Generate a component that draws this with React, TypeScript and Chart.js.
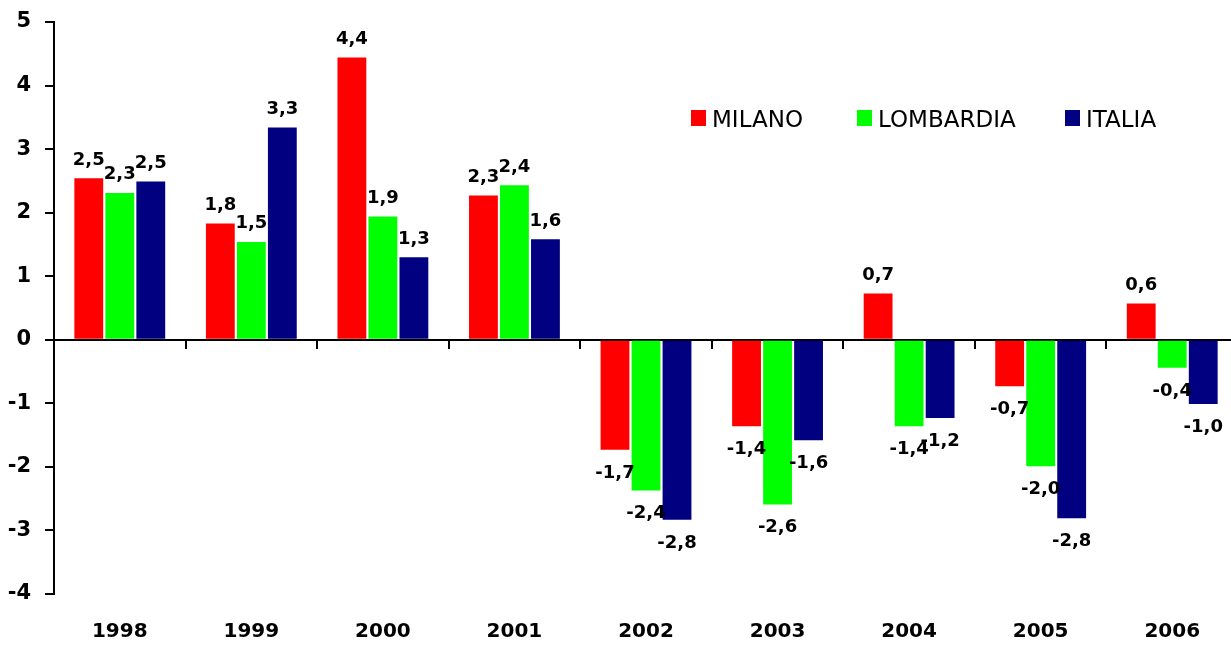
import React, { useEffect, useRef } from "react";
import { Chart, registerables } from "chart.js";

Chart.register(...registerables);

// ---- data ----
const years = ["1998", "1999", "2000", "2001", "2002", "2003", "2004", "2005", "2006"];
const milano = [2.54, 1.83, 4.44, 2.27, -1.73, -1.36, 0.73, -0.73, 0.57];
const lombardia = [2.31, 1.54, 1.94, 2.43, -2.37, -2.59, -1.36, -1.99, -0.44];
const italia = [2.49, 3.34, 1.3, 1.58, -2.83, -1.58, -1.23, -2.81, -1.01];
const seriesNames = ["MILANO", "LOMBARDIA", "ITALIA"];
const seriesColors = ["#FF0000", "#00FF00", "#000080"];
const yMin = -4;
const yMax = 5;

const FONT = "'DejaVu Sans', 'Noto Sans', sans-serif";

const fmt = (v: number) => v.toFixed(1).replace(".", ",");

const barLabels = {
  id: "barLabels",
  afterDatasetsDraw(chart: any) {
    const ctx = chart.ctx;
    ctx.save();
    ctx.font = `bold 18px ${FONT}`;
    ctx.fillStyle = "#000";
    ctx.textAlign = "center";
    ctx.textBaseline = "alphabetic";
    chart.data.datasets.forEach((ds: any, i: number) => {
      const meta = chart.getDatasetMeta(i);
      meta.data.forEach((el: any, j: number) => {
        const v = ds.data[j] as number;
        const y = v >= 0 ? el.y - 13.5 : el.y + 15 + 13;
        ctx.fillText(fmt(v), el.x, y);
      });
    });
    ctx.restore();
  },
};

const legendLeft = [691, 857, 1065];

export default function App() {
  const ref = useRef<HTMLCanvasElement | null>(null);

  useEffect(() => {
    document.body.style.margin = "0";
    const canvas = ref.current!;
    const seriesData = [milano, lombardia, italia];
    const chart = new Chart(canvas, {
      type: "bar",
      data: {
        labels: years,
        datasets: seriesNames.map((name, i) => ({
          label: name,
          data: seriesData[i],
          backgroundColor: seriesColors[i],
          borderWidth: 0,
          categoryPercentage: 0.707,
          barPercentage: 0.93,
          xAxisID: "x",
          yAxisID: "y",
        })),
      },
      options: {
        responsive: false,
        animation: false,
        layout: { padding: { top: 22, left: 0, right: 0, bottom: 0 } },
        plugins: {
          legend: { display: false },
          tooltip: { enabled: false },
        },
        scales: {
          x: {
            type: "category",
            axis: "x",
            position: { y: 0 } as any,
            offset: true,
            grid: {
              display: true,
              drawOnChartArea: false,
              drawTicks: true,
              tickLength: 8,
              color: "#000",
              lineWidth: 2,
              offset: true,
            },
            border: { display: true, color: "#000", width: 2 },
            ticks: { display: false },
          },
          x2: {
            type: "category",
            axis: "x",
            position: "bottom",
            offset: true,
            grid: { display: false, drawTicks: false },
            border: { display: false },
            ticks: {
              color: "#000",
              padding: 26,
              font: { family: FONT, size: 20, weight: "bold" },
            },
            afterFit: (s: any) => {
              s.height = 51;
            },
          },
          y: {
            min: yMin,
            max: yMax,
            ticks: {
              stepSize: 1,
              padding: 14,
              color: "#000",
              font: { family: FONT, size: 21, weight: "bold" },
            },
            grid: {
              drawOnChartArea: false,
              drawTicks: true,
              tickLength: 9,
              color: "#000",
              lineWidth: 2,
            },
            border: { display: true, color: "#000", width: 2 },
            afterFit: (s: any) => {
              s.width = 54;
              s.paddingTop = 0;
              s.paddingBottom = 0;
            },
          },
        } as any,
      },
      plugins: [barLabels],
    });
    return () => chart.destroy();
  }, []);

  return (
    <div style={{ position: "relative", width: 1231, height: 645, overflow: "hidden", background: "#fff" }}>
      <canvas ref={ref} width={1238} height={645} style={{ display: "block", width: 1238, height: 645 }} />
      {seriesNames.map((name, i) => (
        <div
          key={name}
          style={{
            position: "absolute",
            left: legendLeft[i],
            top: 107,
            display: "flex",
            alignItems: "flex-start",
            height: 24,
            fontFamily: FONT,
            fontSize: 23,
            lineHeight: "24px",
            color: "#000",
            whiteSpace: "nowrap",
          }}
        >
          <span
            style={{
              display: "inline-block",
              width: 15,
              height: 16,
              marginTop: 3,
              marginRight: 6,
              background: seriesColors[i],
            }}
          />
          <span>{name}</span>
        </div>
      ))}
    </div>
  );
}
